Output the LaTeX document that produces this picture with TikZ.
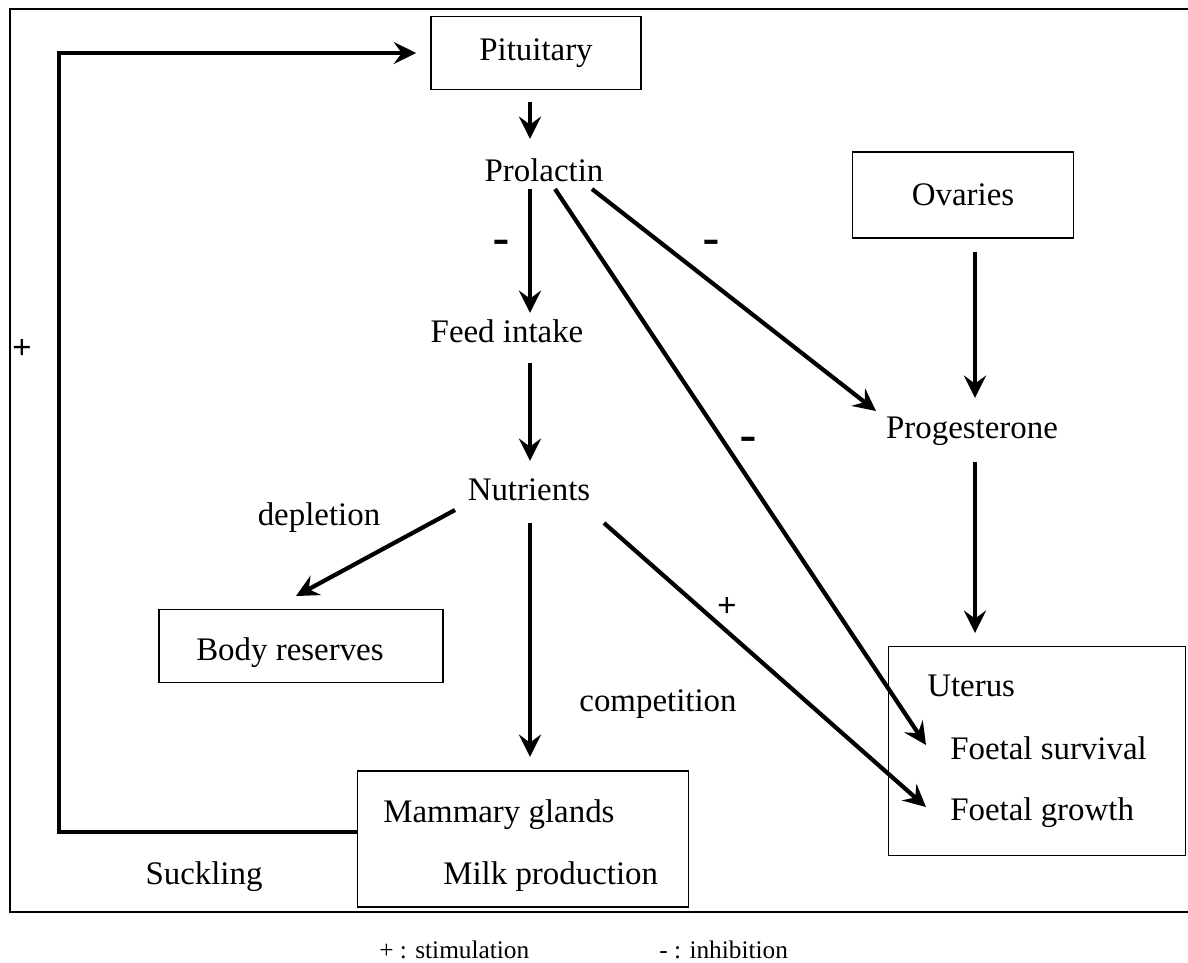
\documentclass[tikz,border=0pt]{standalone}
\usepackage{fontspec}
\setmainfont{Liberation Serif}
\newfontfamily\signfont{Liberation Sans}
\usetikzlibrary{arrows.meta,calc}

\begin{document}
\begin{tikzpicture}[x=0.025cm,y=-0.025cm,
  txt/.style={inner sep=0pt,font=\fontsize{23.4}{28}\selectfont},
  sgn/.style={inner sep=0pt,font=\signfont\fontsize{23.4}{28}\selectfont},
  dsh/.style={inner sep=0pt,font=\signfont\fontsize{38}{40}\selectfont},
  leg/.style={inner sep=0pt,anchor=west,font=\fontsize{18}{22}\selectfont},
  box/.style={draw,line width=1.2pt,inner sep=0pt},
  arr/.style={line width=3pt,-{Stealth[length=0.56cm,width=0.55cm,inset=0.2cm]}}]

\useasboundingbox (0,0) rectangle (1188,962);
\draw[line width=1.4pt] (1188,9) -- (10,9) -- (10,912) -- (1188,912);

\node[box,txt,minimum width=5.25cm,minimum height=1.825cm] (pit) at (536,53) {Pituitary};
\node[txt] (prl) at (544,170) {Prolactin};
\node[txt] (feed) at (507,331) {Feed intake};
\node[txt] (nut) at (529,490) {Nutrients};
\node[box,txt,minimum width=5.525cm,minimum height=2.15cm] (ova) at (963,195) {Ovaries};
\node[txt] (prog) at (972,431) {Progesterone};

\node[box,minimum width=7.1cm,minimum height=1.825cm] (body) at (301,646) {};
\node[txt,anchor=west] (bodyt) at (196,653) {Body reserves};
\node[box,minimum width=8.275cm,minimum height=3.4cm] (mam) at (523,839) {};
\node[txt,anchor=west] (mamt) at (383,815) {Mammary glands};
\node[txt,anchor=west] (milk) at (443,877) {Milk production};
\node[box,minimum width=7.425cm,minimum height=5.225cm] (ut) at (1037,751) {};
\node[txt,anchor=west] (utt) at (927,686) {Uterus};
\node[txt,anchor=west] (surv) at (950,748) {Foetal survival};
\node[txt,anchor=west] (grow) at (950,813) {Foetal growth};

\node[txt] (depl) at (319,518) {depletion};
\node[txt] (comp) at (658,704) {competition};
\node[txt] (suck) at (204,877) {Suckling};

\node[sgn] (p1) at (22,349) {+};
\node[dsh] (m1) at (501,248) {-};
\node[dsh] (m2) at (711,248) {-};
\node[dsh] (m3) at (748,445) {-};
\node[sgn] (p2) at (727,607) {+};

\coordinate (fb1) at (59,832);
\coordinate (fb2) at (59,53);
\draw[arr] (mam.west |- fb1) -- (fb1) -- (fb2) -- ($(pit.west)+(-14,0)$);

\draw[arr] ($(pit)+(-6,49)$) -- ($(prl)+(-14,-31)$);
\draw[arr] ($(prl)+(-14,19)$) -- ($(feed)+(23,-18)$);
\draw[arr] ($(prl)+(48,19)$) -- ($(prog)+(-96,-20)$);
\draw[arr] ($(prl)+(11,19)$) -- ($(ut)+(-111,-6)$);
\draw[arr] ($(feed)+(23,32)$) -- ($(nut)+(1,-29)$);
\draw[arr] ($(nut)+(-74,20)$) -- ($(body)+(-5,-50)$);
\draw[arr] ($(nut)+(1,33)$) -- ($(mam)+(7,-82)$);
\draw[arr] ($(nut)+(75,33)$) -- ($(ut)+(-111,56)$);
\draw[arr] ($(ova)+(12,57)$) -- ($(prog)+(3,-33)$);
\draw[arr] ($(prog)+(3,31)$) -- ($(ut)+(-62,-118)$);

\node[leg] (lg1) at (379,950) {+ : stimulation};
\node[leg] (lg2) at (659,950) {- : inhibition};

\end{tikzpicture}
\end{document}
